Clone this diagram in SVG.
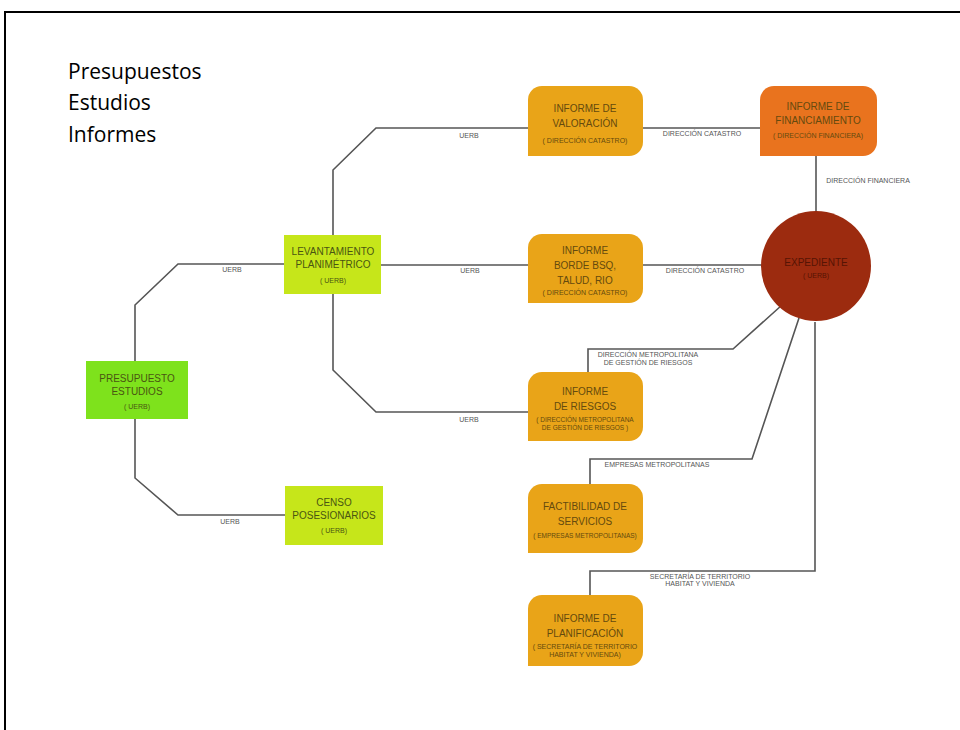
<svg xmlns="http://www.w3.org/2000/svg" width="960" height="730" viewBox="0 0 960 730">
<style>
.frame{fill:none;stroke:#000;stroke-width:2}
.title{font-family:"Open Sans","Liberation Sans",sans-serif;font-size:21px;fill:#000}
.conn{fill:none;stroke:#555;stroke-width:1.6}
.cl{font-family:"Liberation Sans",sans-serif;font-size:7px;fill:#555;text-anchor:middle}
.green{fill:#7ee21c}
.lime{fill:#c6e61a}
.amber{fill:#e9a418}
.orange{fill:#e9731e}
.red{fill:#9c2b0f}
.t{font-family:"Liberation Sans",sans-serif;font-size:10px;text-anchor:middle}
.s{font-family:"Liberation Sans",sans-serif;font-size:7px;text-anchor:middle}
.tg{fill:#4a5512}
.to{fill:#654a0e}
.tr{fill:#561404}
</style>
<rect x="0" y="0" width="960" height="730" fill="#fff"/>
<path class="frame" d="M5,730 V12 H960"/>
<text class="title" x="68" y="79">Presupuestos</text>
<text class="title" x="68" y="110">Estudios</text>
<text class="title" x="68" y="142">Informes</text>

<g id="connectors">
<path class="conn" d="M135,361 V305 L178,264 H284"/>
<text class="cl" x="232" y="272">UERB</text>
<path class="conn" d="M135,419 V478 L178,515 H285"/>
<text class="cl" x="230" y="524">UERB</text>
<path class="conn" d="M333,235 V170 L376,128 H528"/>
<text class="cl" x="469" y="138">UERB</text>
<path class="conn" d="M381,265 H528"/>
<text class="cl" x="470" y="273">UERB</text>
<path class="conn" d="M333,294 V370 L376,412 H528"/>
<text class="cl" x="469" y="422">UERB</text>
<path class="conn" d="M643,128 H760"/>
<text class="cl" x="702" y="136">DIRECCIÓN CATASTRO</text>
<path class="conn" d="M816,156 V212"/>
<text class="cl" x="868" y="183">DIRECCIÓN FINANCIERA</text>
<path class="conn" d="M643,265 H762"/>
<text class="cl" x="705" y="273">DIRECCIÓN CATASTRO</text>
<path class="conn" d="M588,372 V349 H733 L782,305"/>
<text class="cl" x="648" y="357">DIRECCIÓN METROPOLITANA</text>
<text class="cl" x="648" y="365">DE GESTIÓN DE RIESGOS</text>
<path class="conn" d="M590,484 V459 H752 L799,318"/>
<text class="cl" x="657" y="467">EMPRESAS METROPOLITANAS</text>
<path class="conn" d="M590,595 V571 H815 V322"/>
<text class="cl" x="700" y="579">SECRETARÍA DE TERRITORIO</text>
<text class="cl" x="700" y="586">HABITAT Y VIVIENDA</text>
</g>

<g id="presupuesto">
<rect class="green" x="86" y="361" width="102" height="58"/>
<text class="t tg" x="137" y="382">PRESUPUESTO</text>
<text class="t tg" x="137" y="395">ESTUDIOS</text>
<text class="s tg" x="137" y="409">( UERB)</text>
</g>
<g id="levantamiento">
<rect class="lime" x="284" y="235" width="97" height="59"/>
<text class="t tg" x="333" y="255">LEVANTAMIENTO</text>
<text class="t tg" x="333" y="268">PLANIMÉTRICO</text>
<text class="s tg" x="333" y="283">( UERB)</text>
</g>
<g id="censo">
<rect class="lime" x="285" y="486" width="98" height="59"/>
<text class="t tg" x="334" y="506">CENSO</text>
<text class="t tg" x="334" y="519">POSESIONARIOS</text>
<text class="s tg" x="334" y="533">( UERB)</text>
</g>
<g id="valoracion">
<path class="amber" d="M542,86 H629 A14,14 0 0 1 643,100 V142 A14,14 0 0 1 629,156 H528 V100 A14,14 0 0 1 542,86 Z"/>
<text class="t to" x="585" y="112">INFORME DE</text>
<text class="t to" x="585" y="127">VALORACIÓN</text>
<text class="s to" x="585" y="143">( DIRECCIÓN CATASTRO)</text>
</g>
<g id="financiamiento">
<path class="orange" d="M774,86 H863 A14,14 0 0 1 877,100 V142 A14,14 0 0 1 863,156 H760 V100 A14,14 0 0 1 774,86 Z"/>
<text class="t to" x="818" y="110">INFORME DE</text>
<text class="t to" x="818" y="124">FINANCIAMIENTO</text>
<text class="s to" x="818" y="138">( DIRECCIÓN FINANCIERA)</text>
</g>
<g id="borde">
<path class="amber" d="M542,234 H629 A14,14 0 0 1 643,248 V289 A14,14 0 0 1 629,303 H528 V248 A14,14 0 0 1 542,234 Z"/>
<text class="t to" x="585" y="254">INFORME</text>
<text class="t to" x="585" y="269">BORDE  BSQ,</text>
<text class="t to" x="585" y="284">TALUD, RIO</text>
<text class="s to" x="585" y="295">( DIRECCIÓN CATASTRO)</text>
</g>
<g id="riesgos">
<path class="amber" d="M542,372 H629 A14,14 0 0 1 643,386 V427 A14,14 0 0 1 629,441 H528 V386 A14,14 0 0 1 542,372 Z"/>
<text class="t to" x="585" y="395">INFORME</text>
<text class="t to" x="585" y="410">DE RIESGOS</text>
<text class="s to" x="585" y="422" style="font-size:6.5px">( DIRECCIÓN METROPOLITANA</text>
<text class="s to" x="585" y="430" style="font-size:6.5px">DE GESTIÓN DE RIESGOS )</text>
</g>
<g id="factibilidad">
<path class="amber" d="M542,484 H629 A14,14 0 0 1 643,498 V539 A14,14 0 0 1 629,553 H528 V498 A14,14 0 0 1 542,484 Z"/>
<text class="t to" x="585" y="510">FACTIBILIDAD DE</text>
<text class="t to" x="585" y="525">SERVICIOS</text>
<text class="s to" x="585" y="538" style="font-size:6.5px">( EMPRESAS METROPOLITANAS)</text>
</g>
<g id="planificacion">
<path class="amber" d="M542,595 H629 A14,14 0 0 1 643,609 V652 A14,14 0 0 1 629,666 H528 V609 A14,14 0 0 1 542,595 Z"/>
<text class="t to" x="585" y="622">INFORME DE</text>
<text class="t to" x="585" y="637">PLANIFICACIÓN</text>
<text class="s to" x="585" y="649">( SECRETARÍA DE TERRITORIO</text>
<text class="s to" x="585" y="657">HABITAT Y VIVIENDA)</text>
</g>
<g id="expediente">
<circle class="red" cx="816" cy="266" r="55"/>
<text class="t tr" x="816" y="266">EXPEDIENTE</text>
<text class="s tr" x="816" y="278">( UERB)</text>
</g>
</svg>
